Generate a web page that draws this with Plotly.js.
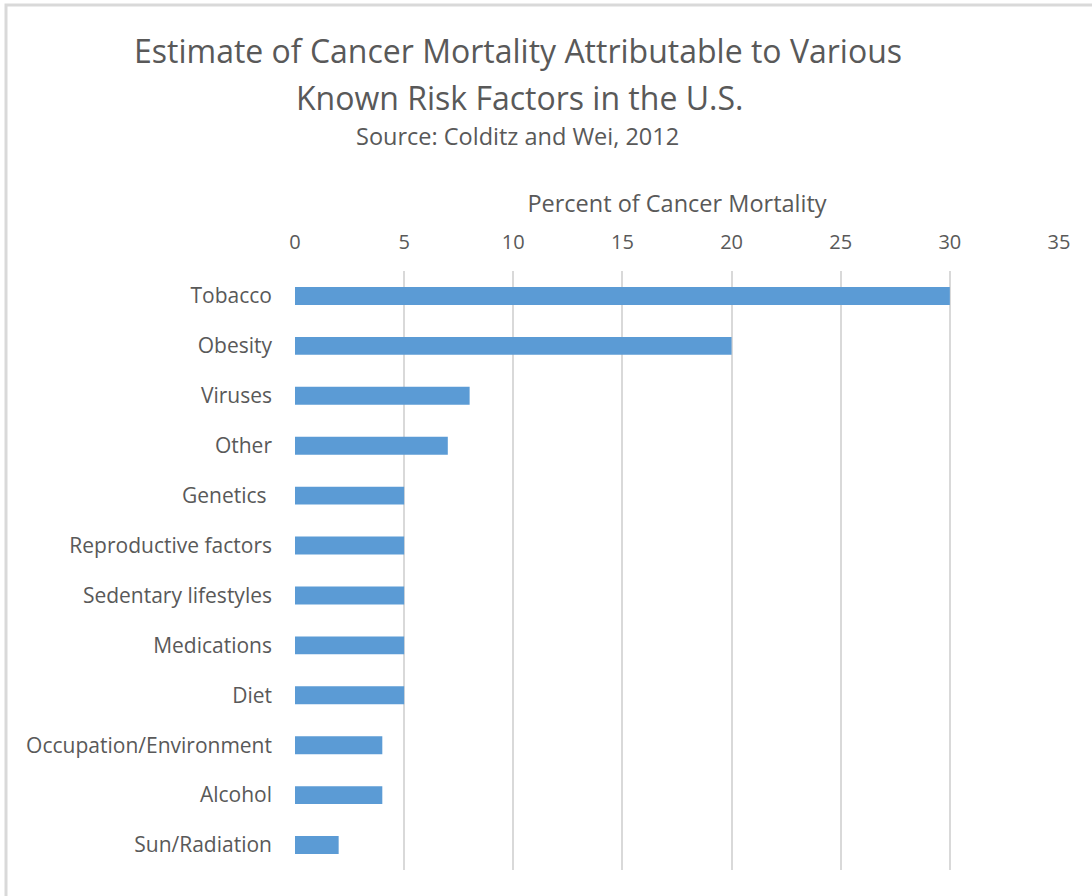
<!DOCTYPE html>
<html>
<head>
<meta charset="utf-8">
<script src="https://cdn.plot.ly/plotly-3.0.1.min.js"></script>
<style>
html,body{margin:0;padding:0;background:#fff;}
#chart{width:1092px;height:896px;}
</style>
</head>
<body>
<div id="chart"></div>
<script>
// Data (top to bottom as shown)
const categories = ["Tobacco","Obesity","Viruses","Other","Genetics\u00a0","Reproductive factors","Sedentary lifestyles","Medications","Diet","Occupation/Environment","Alcohol","Sun/Radiation"];
const percentValues = [30,20,8,7,5,5,5,5,5,4,4,2];
const xTickValues = [0,5,10,15,20,25,30,35];
const titleLine1 = "Estimate of Cancer Mortality Attributable to Various";
const titleLine2 = "Known Risk Factors in the U.S.";
const sourceText = "Source: Colditz and Wei, 2012";
const xAxisTitle = "Percent of Cancer Mortality";

const W = 1092, H = 896;
const M = {l:295, r:33, t:271, b:26};
const pw = W - M.l - M.r, ph = H - M.t - M.b;
const px = v => (v - M.l) / pw;          // pixel x -> paper x
const py = v => (H - M.b - v) / ph;      // pixel y -> paper y

const textColor = "#595959";
const uiFont = "'Open Sans', 'Noto Sans', sans-serif";

const trace = {
  type: "bar",
  orientation: "h",
  y: categories,
  x: percentValues,
  marker: {color: "#5B9BD5"},
  width: 0.36,
  hoverinfo: "x+y"
};

const layout = {
  width: W, height: H,
  margin: M,
  paper_bgcolor: "#fff",
  plot_bgcolor: "#fff",
  showlegend: false,
  font: {family: uiFont, color: textColor, size: 20},
  title: {
    text: titleLine1,
    font: {family: uiFont, size: 32, color: textColor},
    x: 518 / W, xanchor: "center", xref: "container",
    y: 1 - 52 / H, yanchor: "middle", yref: "container"
  },
  xaxis: {
    side: "top",
    range: [0, 35],
    tickvals: xTickValues,
    showgrid: true,
    gridcolor: "#D9D9D9",
    gridwidth: 2,
    zeroline: false,
    showline: false,
    ticks: "",
    ticklabelstandoff: 17,
    tickfont: {family: uiFont, size: 20, color: textColor},
    title: {text: xAxisTitle, font: {family: uiFont, size: 23.5, color: textColor}, standoff: 8},
    fixedrange: true
  },
  yaxis: {
    autorange: "reversed",
    type: "category",
    showgrid: false,
    zeroline: false,
    showline: false,
    ticks: "",
    ticklabelstandoff: 22,
    tickfont: {family: uiFont, size: 21, color: textColor},
    fixedrange: true
  },
  annotations: [
    {text: titleLine2, xref: "paper", yref: "paper", x: px(519), y: py(97), xanchor: "center", yanchor: "middle", showarrow: false,
     font: {family: uiFont, size: 32, color: textColor}},
    {text: sourceText, xref: "paper", yref: "paper", x: px(517), y: py(136), xanchor: "center", yanchor: "middle", showarrow: false,
     font: {family: uiFont, size: 23.5, color: textColor}}
  ],
  shapes: [
    {type: "path", xref: "paper", yref: "paper",
     path: `M ${px(6)} ${py(H)} L ${px(6)} ${py(5)} L ${px(W)} ${py(5)}`,
     line: {color: "#D9D9D9", width: 3}, layer: "above"}
  ]
};

Plotly.newPlot("chart", [trace], layout, {displayModeBar: false});
</script>
</body>
</html>
